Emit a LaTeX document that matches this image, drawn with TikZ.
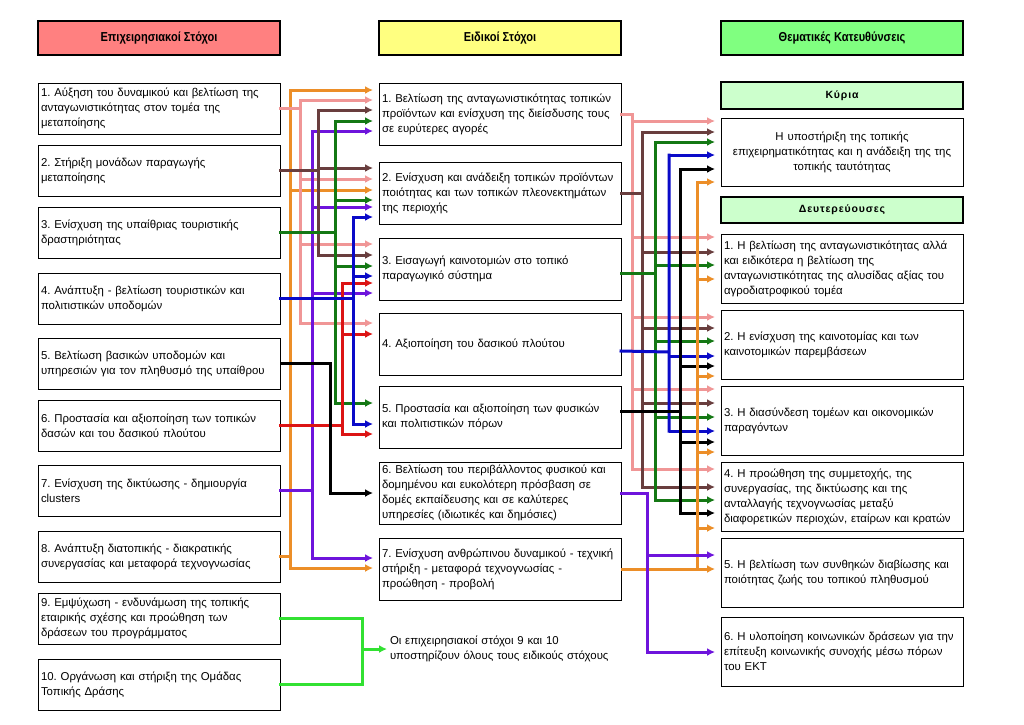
\documentclass[tikz,border=0pt]{standalone}
\usepackage{fontspec}
\setmainfont{Liberation Sans}
\usepackage{xcolor}
\usepackage{tikz}
\usetikzlibrary{arrows.meta,positioning,calc}
\frenchspacing
\definecolor{cabVermelho}{RGB}{255,128,128}
\definecolor{cabAmarelo}{RGB}{255,255,128}
\definecolor{cabVerde}{RGB}{128,255,128}
\definecolor{subVerde}{RGB}{204,255,204}
\definecolor{lLaranja}{RGB}{236,142,40}
\definecolor{lRosa}{RGB}{240,150,150}
\definecolor{lMarrom}{RGB}{105,62,62}
\definecolor{lVerde}{RGB}{20,120,20}
\definecolor{lRoxo}{RGB}{110,20,220}
\definecolor{lAzul}{RGB}{10,10,200}
\definecolor{lVermelho}{RGB}{220,20,20}
\definecolor{lVerdeClaro}{RGB}{50,225,50}
\tikzset{
    caixa/.style={
        rectangle,
        draw,
        line width=0.8pt,
        fill=white,
        outer sep=0pt,
        align=left,
        text width=236pt,
        inner xsep=3pt,
        inner ysep=1pt,
        minimum height=51pt,
        font=\fontsize{11.4}{15}\selectfont
    },
    cabecalho/.style={
        rectangle,
        draw,
        line width=1.2pt,
        outer sep=0pt,
        anchor=north west,
        minimum width=242pt,
        minimum height=34pt,
        font=\fontsize{13}{15}\selectfont\bfseries\addfontfeature{FakeStretch=0.85}
    },
    subtitulo/.style={
        cabecalho,
        anchor=center,
        fill=subVerde,
        font=\fontsize{10.5}{12}\selectfont\bfseries\addfontfeature{LetterSpace=8}
    },
    linha/.style={line width=3pt, line cap=rect},
    seta/.style={line width=3pt, -{Latex[length=8pt,width=8pt]}, shorten >=6pt}
}

\begin{document}
\begin{tikzpicture}[x=1pt, y=-1pt]
    \fill[white] (0,0) rectangle (1024,724);
    \useasboundingbox (0,0) rectangle (1024,724);

    % cabecalhos
    \node[cabecalho, fill=cabVermelho] (hEpix) at (38,21) {Επιχειρησιακοί Στόχοι};
    \node[cabecalho, fill=cabAmarelo] (hEid) at (379,21) {Ειδικοί Στόχοι};
    \node[cabecalho, fill=cabVerde] (hThem) at (721,21) {Θεματικές Κατευθύνσεις};

    % epixeirisiakoi stoxoi
    \node[caixa, anchor=north west] (l1) at (38,83) {1. Αύξηση του δυναμικού και βελτίωση της\\ανταγωνιστικότητας στον τομέα της\\μεταποίησης};
    \node[caixa, below=11pt of l1] (l2) {2. Στήριξη μονάδων παραγωγής\\μεταποίησης};
    \node[caixa, below=11pt of l2] (l3) {3. Ενίσχυση της υπαίθριας τουριστικής\\δραστηριότητας};
    \node[caixa, below=15pt of l3] (l4) {4. Ανάπτυξη - βελτίωση τουριστικών και\\πολιτιστικών υποδομών};
    \node[caixa, below=14pt of l4] (l5) {5. Βελτίωση βασικών υποδομών και\\υπηρεσιών για τον πληθυσμό της υπαίθρου};
    \node[caixa, below=11pt of l5] (l6) {6. Προστασία και αξιοποίηση των τοπικών\\δασών και του δασικού πλούτου};
    \node[caixa, below=14pt of l6] (l7) {7. Ενίσχυση της δικτύωσης - δημιουργία\\clusters};
    \node[caixa, below=15pt of l7] (l8) {8. Ανάπτυξη διατοπικής - διακρατικής\\συνεργασίας και μεταφορά τεχνογνωσίας};
    \node[caixa, below=11pt of l8] (l9) {9. Εμψύχωση - ενδυνάμωση της τοπικής\\εταιρικής σχέσης και προώθηση των\\δράσεων του προγράμματος};
    \node[caixa, below=15pt of l9] (l10) {10. Οργάνωση και στήριξη της Ομάδας\\Τοπικής Δράσης};

    % eidikoi stoxoi
    \node[caixa, minimum height=62pt, anchor=north west] (m1) at (379,83) {1. Βελτίωση της ανταγωνιστικότητας τοπικών\\προϊόντων και ενίσχυση της διείσδυσης τους\\σε ευρύτερες αγορές};
    \node[caixa, minimum height=62pt, below=17pt of m1] (m2) {2. Ενίσχυση και ανάδειξη τοπικών προϊόντων\\ποιότητας και των τοπικών πλεονεκτημάτων\\της περιοχής};
    \node[caixa, minimum height=62pt, below=14pt of m2] (m3) {3. Εισαγωγή καινοτομιών στο τοπικό\\παραγωγικό σύστημα};
    \node[caixa, minimum height=62pt, below=13pt of m3] (m4) {4. Αξιοποίηση του δασικού πλούτου};
    \node[caixa, minimum height=62pt, below=11pt of m4] (m5) {5. Προστασία και αξιοποίηση των φυσικών\\και πολιτιστικών πόρων};
    \node[caixa, minimum height=62pt, below=14pt of m5] (m6) {6. Βελτίωση του περιβάλλοντος φυσικού και\\δομημένου και ευκολότερη πρόσβαση σε\\δομές εκπαίδευσης και σε καλύτερες\\υπηρεσίες (ιδιωτικές και δημόσιες)};
    \node[caixa, minimum height=62pt, below=14pt of m6] (m7) {7. Ενίσχυση ανθρώπινου δυναμικού - τεχνική\\στήριξη - μεταφορά τεχνογνωσίας -\\προώθηση - προβολή};
    \node[caixa, draw=none, fill=none, minimum height=30pt, inner xsep=2pt, anchor=west] (nota) at (388,649) {Οι επιχειρησιακοί στόχοι 9 και 10\\υποστηρίζουν όλους τους ειδικούς στόχους};

    % thematikes kateuthynseis
    \node[subtitulo, anchor=north west, minimum height=27pt] (kyria) at (721,82) {Κύρια};
    \node[caixa, minimum height=68pt, align=center, below=9pt of kyria] (kyrio) {Η υποστήριξη της τοπικής\\επιχειρηματικότητας και η ανάδειξη της της\\τοπικής ταυτότητας};
    \node[subtitulo, minimum height=26pt, below=11pt of kyrio] (deut) {Δευτερεύουσες};
    \node[caixa, minimum height=69pt, below=11pt of deut] (r1) {1. Η βελτίωση της ανταγωνιστικότητας αλλά\\και ειδικότερα η βελτίωση της\\ανταγωνιστικότητας της αλυσίδας αξίας του\\αγροδιατροφικού τομέα};
    \node[caixa, minimum height=69pt, below=7pt of r1] (r2) {2. Η ενίσχυση της καινοτομίας και των\\καινοτομικών παρεμβάσεων};
    \node[caixa, minimum height=69pt, below=7pt of r2] (r3) {3. Η διασύνδεση τομέων και οικονομικών\\παραγόντων};
    \node[caixa, minimum height=69pt, below=7pt of r3] (r4) {4. Η προώθηση της συμμετοχής, της\\συνεργασίας, της δικτύωσης και της\\ανταλλαγής τεχνογνωσίας μεταξύ\\διαφορετικών περιοχών, εταίρων και κρατών};
    \node[caixa, minimum height=69pt, below=7pt of r4] (r5) {5. Η βελτίωση των συνθηκών διαβίωσης και\\ποιότητας ζωής του τοπικού πληθυσμού};
    \node[caixa, minimum height=69pt, below=10pt of r5] (r6) {6. Η υλοποίηση κοινωνικών δράσεων για την\\επίτευξη κοινωνικής συνοχής μέσω πόρων\\του ΕΚΤ};

    % troncos esquerda -> meio
    \coordinate (xLar) at (290,0);
    \coordinate (xRosa) at (300,0);
    \coordinate (xRoxo) at (312,0);
    \coordinate (xMarrom) at (318,0);
    \coordinate (xPreto) at (330,0);
    \coordinate (xVerde) at (335,0);
    \coordinate (xVerm) at (342,0);
    \coordinate (xAzul) at (353,0);
    \coordinate (xVClaro) at (362,0);

    \draw[linha, lLaranja] (l8.east) -- (xLar |- l8.east) (xLar |- 0,90) -- (xLar |- 0,568);
    \foreach \yy/\alvo in {90/m1,190/m2,568/m7}
        \draw[seta, lLaranja] (xLar |- 0,\yy) -- (\alvo.west |- 0,\yy);

    \draw[linha, lRosa] (l1.east) -- (xRosa |- l1.east) (xRosa |- 0,100) -- (xRosa |- 0,323);
    \foreach \yy/\alvo in {100/m1,179/m2,244/m3,323/m4}
        \draw[seta, lRosa] (xRosa |- 0,\yy) -- (\alvo.west |- 0,\yy);

    \draw[linha, lRoxo] (l7.east) -- (xRoxo |- l7.east) (xRoxo |- 0,131) -- (xRoxo |- 0,558);
    \foreach \yy/\alvo in {131/m1,207/m2,293/m3,558/m7}
        \draw[seta, lRoxo] (xRoxo |- 0,\yy) -- (\alvo.west |- 0,\yy);

    \draw[linha, lMarrom] (l2.east) -- (xMarrom |- l2.east) (xMarrom |- 0,110) -- (xMarrom |- 0,255);
    \foreach \yy/\alvo in {110/m1,168/m2,255/m3}
        \draw[seta, lMarrom] (xMarrom |- 0,\yy) -- (\alvo.west |- 0,\yy);

    \draw[linha, lVerde] (l3.east) -- (xVerde |- l3.east) (xVerde |- 0,121) -- (xVerde |- 0,403);
    \foreach \yy/\alvo in {121/m1,200/m2,266/m3,403/m5}
        \draw[seta, lVerde] (xVerde |- 0,\yy) -- (\alvo.west |- 0,\yy);

    \draw[linha, lVermelho] (l6.east) -- (xVerm |- l6.east) (xVerm |- 0,283) -- (xVerm |- 0,434);
    \foreach \yy/\alvo in {283/m3,334/m4,434/m5}
        \draw[seta, lVermelho] (xVerm |- 0,\yy) -- (\alvo.west |- 0,\yy);

    \draw[linha, lAzul] (l4.east) -- (xAzul |- l4.east) (xAzul |- 0,217) -- (xAzul |- 0,424);
    \foreach \yy/\alvo in {217/m2,276/m3,424/m5}
        \draw[seta, lAzul] (xAzul |- 0,\yy) -- (\alvo.west |- 0,\yy);

    \draw[seta] (l5.east) -| (xPreto |- m6.west) -- (m6.west);

    \draw[linha, lVerdeClaro] (l9.east) -| (xVClaro |- l10.east) -- (l10.east);
    \draw[seta, lVerdeClaro, shorten >=1pt] (xVClaro |- nota.west) -- (nota.west);

    % troncos meio -> direita
    \coordinate (xRosaD) at (632,0);
    \coordinate (xMarromD) at (642,0);
    \coordinate (xRoxoD) at (647,0);
    \coordinate (xVerdeD) at (655,0);
    \coordinate (xAzulD) at (669,0);
    \coordinate (xPretoD) at (680,0);
    \coordinate (xLarD) at (697,0);

    \draw[linha, lRosa] (m1.east) -- (xRosaD |- m1.east) -- (xRosaD |- 0,469);
    \foreach \yy/\alvo in {121/kyrio,237/r1,317/r2,389/r3,469/r4}
        \draw[seta, lRosa] (xRosaD |- 0,\yy) -- (\alvo.west |- 0,\yy);

    \draw[linha, lMarrom] (m2.east) -- (xMarromD |- m2.east) (xMarromD |- 0,132) -- (xMarromD |- 0,487);
    \foreach \yy/\alvo in {132/kyrio,252/r1,328/r2,403/r3,487/r4}
        \draw[seta, lMarrom] (xMarromD |- 0,\yy) -- (\alvo.west |- 0,\yy);

    \draw[linha, lVerde] ([yshift=-4pt]m3.east) -- (xVerdeD |- 0,273) (xVerdeD |- 0,142) -- (xVerdeD |- 0,500);
    \foreach \yy/\alvo in {142/kyrio,265/r1,341/r2,417/r3,500/r4}
        \draw[seta, lVerde] (xVerdeD |- 0,\yy) -- (\alvo.west |- 0,\yy);

    \draw[linha, lAzul] ([yshift=-7pt]m4.east) -- (xAzulD |- 0,352) (xAzulD |- 0,155) -- (xAzulD |- 0,431);
    \foreach \yy/\alvo in {155/kyrio,356/r2,431/r3}
        \draw[seta, lAzul] (xAzulD |- 0,\yy) -- (\alvo.west |- 0,\yy);

    \draw[linha] ([yshift=6pt]m5.east) -- (xPretoD |- 0,411) (xPretoD |- 0,169) -- (xPretoD |- 0,513);
    \foreach \yy/\alvo in {169/kyrio,366/r2,442/r3,513/r4}
        \draw[seta] (xPretoD |- 0,\yy) -- (\alvo.west |- 0,\yy);

    \draw[linha, lLaranja] (xLarD |- 0,182) -- (xLarD |- m7.east);
    \draw[seta, lLaranja] (m7.east) -- (r5.west |- m7.east);
    \foreach \yy/\alvo in {182/kyrio,279/r1,376/r2,452/r3,528/r4}
        \draw[seta, lLaranja] (xLarD |- 0,\yy) -- (\alvo.west |- 0,\yy);

    \draw[linha, lRoxo] (m6.east) -| (xRoxoD |- 0,652);
    \foreach \yy/\alvo in {555/r5,652/r6}
        \draw[seta, lRoxo] (xRoxoD |- 0,\yy) -- (\alvo.west |- 0,\yy);
\end{tikzpicture}
\end{document}
